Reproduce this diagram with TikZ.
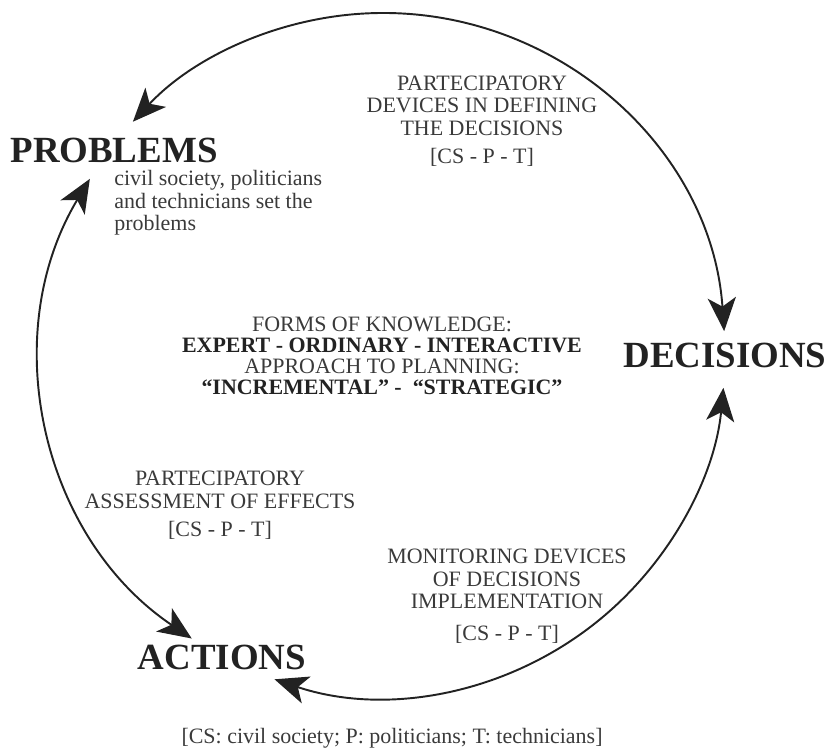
\documentclass[tikz,border=0pt]{standalone}
\usepackage{fontspec}
\setmainfont{Liberation Serif}
\usetikzlibrary{arrows.meta}
\definecolor{ink}{HTML}{3A3A3A}
\definecolor{deep}{HTML}{222222}

\begin{document}
\begin{tikzpicture}[x=0.02cm,y=0.02cm,
  stage/.style={inner sep=0pt,text=deep,font=\fontsize{21}{24}\selectfont\bfseries},
  note/.style={inner sep=0pt,text=ink,align=center,font=\fontsize{12.5}{12.9}\selectfont},
  link/.style={draw=deep,line width=1.1pt,{Stealth[length=19pt,width=16pt,inset=5pt]}-{Stealth[length=19pt,width=16pt,inset=5pt]}}]
\useasboundingbox (0,0) rectangle (832,748);
\coordinate (hub) at (383,393);
% the three stages
\node[stage] (problems) at (114,598) {PROBLEMS};
\node[stage] (decisions) at (725,393) {DECISIONS};
\node[stage] (actions) at (222,91) {ACTIONS};
\node[note,align=left,anchor=north west] (setby) at (114,578) {civil society, politicians\\and technicians set the\\problems};
% texts along the cycle
\node[note] (define) at (482,627) {PARTECIPATORY\\DEVICES IN DEFINING\\THE DECISIONS\\[3pt]{[CS - P - T]}};
\node[note] (assess) at (220,243) {PARTECIPATORY\\ASSESSMENT OF EFFECTS\\[3pt]{[CS - P - T]}};
\node[note] (monitor) at (507,152) {MONITORING DEVICES\\OF DECISIONS\\IMPLEMENTATION\\[5pt]{[CS - P - T]}};
\node[note,font=\fontsize{12.5}{12}\selectfont] (knowledge) at (382,392) {FORMS OF KNOWLEDGE:\\\textbf{\color{deep}EXPERT - ORDINARY - INTERACTIVE}\\APPROACH TO PLANNING:\\\textbf{\color{deep}“INCREMENTAL” -\ \ “STRATEGIC”}};
\node[note] (legend) at (392,10) {[CS: civil society; P: politicians; T: technicians]};
% the cycle
\draw[link] ([shift={(4:342)}]hub) arc[start angle=4,end angle=137,radius=342];
\draw[link] ([shift={(149:342)}]hub) arc[start angle=149,end angle=236,radius=342];
\draw[link] ([shift={(251.5:342)}]hub) arc[start angle=251.5,end angle=354.5,radius=342];
\end{tikzpicture}
\end{document}
